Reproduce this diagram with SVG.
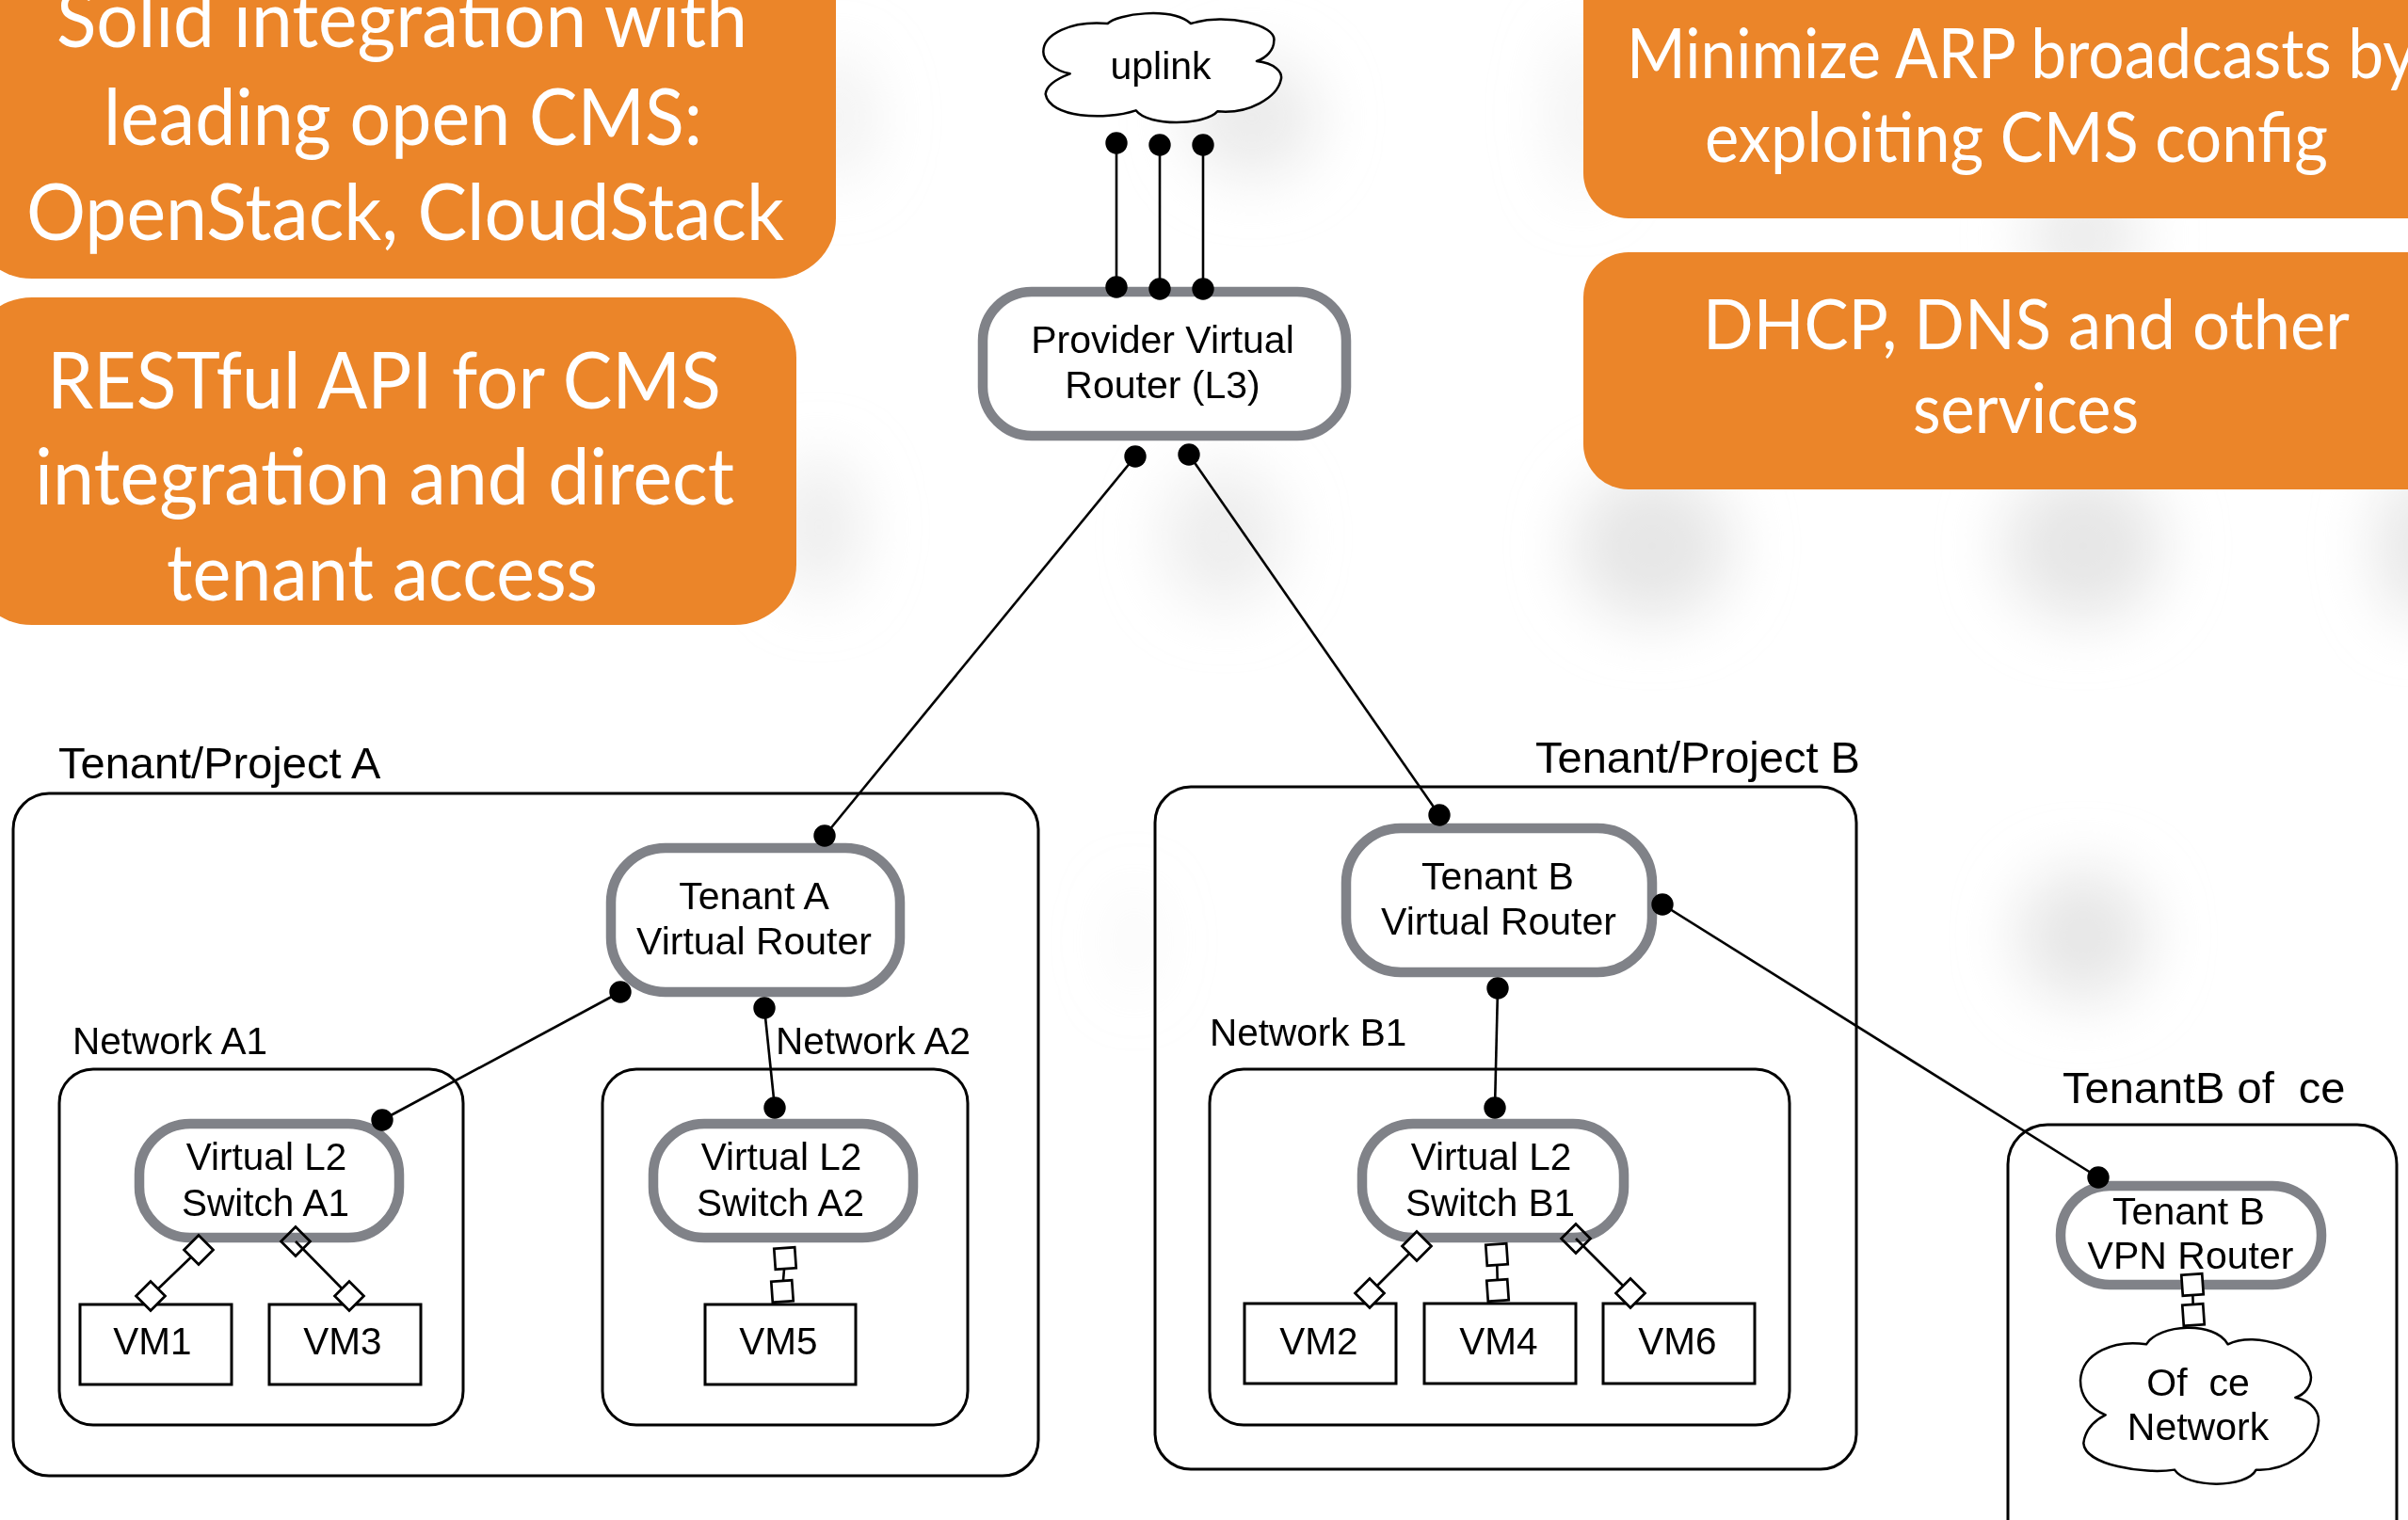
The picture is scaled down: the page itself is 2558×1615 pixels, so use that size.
<svg xmlns="http://www.w3.org/2000/svg" width="2558" height="1615" viewBox="0 0 2558 1615">
<style>
text{font-family:"Liberation Sans",Arial,sans-serif;fill:#000;white-space:pre}
.c{text-anchor:middle}
.f40{font-size:40.5px}.f41{font-size:41px}.f47{font-size:47px}
.o{fill:#eb8529}
.l{font-family:Lato,"Open Sans",sans-serif;fill:#fff}
.l84{font-size:84px}.l72{font-size:73px}
.router{fill:#fff;stroke:#808288;stroke-width:10.5}
.box{fill:none;stroke:#000;stroke-width:3}
.vm{fill:#fff;stroke:#000;stroke-width:3}
.cloud{fill:#fff;stroke:#000;stroke-width:7.5;stroke-linejoin:round}
.link{fill:none;stroke:#000;stroke-width:2.6}
.dd{marker-start:url(#dot);marker-end:url(#dot)}
.di{marker-start:url(#dia);marker-end:url(#dia)}
.dh{marker-start:url(#diah);marker-end:url(#dia)}
.sq{marker-start:url(#sq);marker-end:url(#sq)}
</style>
<defs>
<filter id="blur" x="-80%" y="-80%" width="260%" height="260%"><feGaussianBlur stdDeviation="32"/></filter>
<marker id="dot" markerUnits="userSpaceOnUse" markerWidth="26" markerHeight="26" refX="13" refY="13" overflow="visible"><circle cx="13" cy="13" r="11.7" fill="#000"/></marker>
<marker id="dia" markerUnits="userSpaceOnUse" markerWidth="40" markerHeight="40" refX="20" refY="20"><polygon points="20,4.5 35.5,20 20,35.5 4.5,20" fill="#fff" stroke="#000" stroke-width="2.7"/></marker>
<marker id="diah" markerUnits="userSpaceOnUse" markerWidth="40" markerHeight="40" refX="20" refY="20"><polygon points="20,4.5 35.5,20 20,35.5 4.5,20" fill="none" stroke="#000" stroke-width="2.7"/></marker>
<marker id="sq" markerUnits="userSpaceOnUse" markerWidth="32" markerHeight="32" refX="16" refY="16"><rect x="5" y="5" width="22" height="22" fill="#fff" stroke="#000" stroke-width="2.7" transform="rotate(-4 16 16)"/></marker>
</defs>
<rect width="2558" height="1615" fill="#fff"/>
<g id="shadows" filter="url(#blur)" fill="#e6e6e6">
<ellipse cx="890" cy="125" rx="40" ry="70" opacity=".5"/>
<ellipse cx="870" cy="560" rx="45" ry="75" opacity=".7"/>
<ellipse cx="1330" cy="125" rx="70" ry="65" opacity=".8"/>
<ellipse cx="1300" cy="570" rx="65" ry="75" opacity=".7"/>
<ellipse cx="1755" cy="580" rx="85" ry="80"/>
<ellipse cx="2213" cy="580" rx="85" ry="80"/>
<ellipse cx="2570" cy="580" rx="45" ry="80"/>
<ellipse cx="2213" cy="994" rx="70" ry="70"/>
<ellipse cx="2213" cy="250" rx="60" ry="60" opacity=".8"/>
<ellipse cx="1680" cy="120" rx="30" ry="90" opacity=".5"/>
<ellipse cx="1205" cy="1000" rx="20" ry="60" opacity=".3"/>
</g>
<g id="callout-cms">
<rect class="o" x="-32" y="-120" width="920" height="416" rx="66" ry="64"/>
<text class="l l84" x="60" y="50" textLength="734" lengthAdjust="spacingAndGlyphs">Solid integration with</text>
<text class="l l84" x="110" y="154" textLength="636" lengthAdjust="spacingAndGlyphs">leading open CMS:</text>
<text class="l l84" x="28" y="255" textLength="805" lengthAdjust="spacingAndGlyphs">OpenStack, CloudStack</text>
</g>
<g id="callout-rest">
<rect class="o" x="-32" y="316" width="878" height="348" rx="66" ry="64"/>
<text class="l l84" x="50" y="434" textLength="716" lengthAdjust="spacingAndGlyphs">RESTful API for CMS</text>
<text class="l l84" x="37" y="536" textLength="743" lengthAdjust="spacingAndGlyphs">integration and direct</text>
<text class="l l84" x="177" y="638" textLength="458" lengthAdjust="spacingAndGlyphs">tenant access</text>
</g>
<g id="callout-arp">
<rect class="o" x="1682" y="-100" width="976" height="332" rx="48" ry="48"/>
<text class="l l72" x="1728" y="83" textLength="838" lengthAdjust="spacingAndGlyphs">Minimize ARP broadcasts by</text>
<text class="l l72" x="1811" y="172" textLength="662" lengthAdjust="spacingAndGlyphs">exploiting CMS config</text>
</g>
<g id="callout-dhcp">
<rect class="o" x="1682" y="268" width="976" height="252" rx="48" ry="48"/>
<text class="l l72" x="1809" y="371" textLength="687" lengthAdjust="spacingAndGlyphs">DHCP, DNS and other</text>
<text class="l l72" x="2032" y="460" textLength="240" lengthAdjust="spacingAndGlyphs">services</text>
</g>
<g id="tenant-a">
<rect class="box" x="14" y="843" width="1089" height="725" rx="38"/>
<text class="f47" x="62" y="827">Tenant/Project A</text>
</g>
<g id="tenant-b">
<rect class="box" x="1227" y="836" width="745" height="725" rx="38"/>
<text class="f47" x="1631" y="821">Tenant/Project B</text>
</g>
<g id="tenant-b-office">
<rect class="box" x="2133" y="1195" width="413" height="500" rx="42"/>
<text class="f47" x="2191" y="1172">TenantB of  ce</text>
</g>
<g id="network-a1">
<rect class="box" x="63" y="1136" width="429" height="378" rx="36"/>
<text class="f40" x="77" y="1120">Network A1</text>
</g>
<g id="network-a2">
<rect class="box" x="640" y="1136" width="388" height="378" rx="36"/>
<text class="f40" x="824" y="1120">Network A2</text>
</g>
<g id="network-b1">
<rect class="box" x="1285" y="1136" width="616" height="378" rx="36"/>
<text class="f40" x="1285" y="1111">Network B1</text>
</g>
<g id="uplink">
<path class="cloud" transform="translate(1040 0) scale(.3333)" d="M290,235 C240,225 205,195 205,165 C205,110 290,65 410,75 C440,45 610,20 675,75 C790,40 950,80 940,130 C940,160 915,185 885,195 C940,200 970,230 962,255 C950,310 860,365 760,355 C720,400 540,405 500,352 C400,385 225,375 212,300 C215,270 250,250 290,235 Z"/>
<text class="c f41" x="1233" y="84">uplink</text>
</g>
<g id="provider-router">
<rect class="router" x="1044" y="310" width="386" height="153" rx="52"/>
<text class="c f41" x="1235" y="375">Provider Virtual</text>
<text class="c f41" x="1235" y="423">Router (L3)</text>
</g>
<g id="tenant-a-router">
<rect class="router" x="649" y="901" width="307" height="153" rx="58"/>
<text class="c f41" x="801" y="966">Tenant A</text>
<text class="c f41" x="801" y="1014">Virtual Router</text>
</g>
<g id="tenant-b-router">
<rect class="router" x="1430" y="880" width="325" height="153" rx="58"/>
<text class="c f41" x="1591" y="945">Tenant B</text>
<text class="c f41" x="1592" y="993">Virtual Router</text>
</g>
<g id="switch-a1">
<rect class="router" x="148" y="1194" width="276" height="121" rx="54"/>
<text class="c f40" x="283" y="1243">Virtual L2</text>
<text class="c f40" x="282" y="1292">Switch A1</text>
</g>
<g id="switch-a2">
<rect class="router" x="694" y="1194" width="276" height="121" rx="54"/>
<text class="c f40" x="830" y="1243">Virtual L2</text>
<text class="c f40" x="829" y="1292">Switch A2</text>
</g>
<g id="switch-b1">
<rect class="router" x="1447" y="1194" width="278" height="121" rx="54"/>
<text class="c f40" x="1584" y="1243">Virtual L2</text>
<text class="c f40" x="1583" y="1292">Switch B1</text>
</g>
<g id="vpn-router">
<rect class="router" x="2189" y="1260" width="277" height="105" rx="52"/>
<text class="c f41" x="2325" y="1301">Tenant B</text>
<text class="c f41" x="2327" y="1348">VPN Router</text>
</g>
<g id="office-network">
<path class="cloud" transform="translate(2120 1180) scale(.3333)" d="M350,970 C300,950 270,910 270,860 C275,770 380,730 480,745 C520,680 700,670 740,745 C830,700 1000,760 1005,850 C1005,880 985,905 955,915 C1010,925 1035,965 1028,1000 C1020,1090 920,1150 830,1145 C800,1205 610,1205 570,1145 C470,1160 285,1130 280,1060 C285,1020 310,990 350,970 Z"/>
<text class="c f41" x="2335" y="1483">Of  ce</text>
<text class="c f41" x="2335" y="1530">Network</text>
</g>
<g id="vm1"><rect class="vm" x="85" y="1386" width="161" height="85"/><text class="c f40" x="162" y="1439">VM1</text></g>
<g id="vm3"><rect class="vm" x="286" y="1386" width="161" height="85"/><text class="c f40" x="364" y="1439">VM3</text></g>
<g id="vm5"><rect class="vm" x="749" y="1386" width="160" height="85"/><text class="c f40" x="827" y="1439">VM5</text></g>
<g id="vm2"><rect class="vm" x="1322" y="1385" width="161" height="85"/><text class="c f40" x="1401" y="1439">VM2</text></g>
<g id="vm4"><rect class="vm" x="1513" y="1385" width="161" height="85"/><text class="c f40" x="1592" y="1439">VM4</text></g>
<g id="vm6"><rect class="vm" x="1703" y="1385" width="161" height="85"/><text class="c f40" x="1782" y="1439">VM6</text></g>
<g id="connectors">
<line class="link dd" x1="1186" y1="152" x2="1186" y2="305"/>
<line class="link dd" x1="1232" y1="154" x2="1232" y2="307"/>
<line class="link dd" x1="1278" y1="154" x2="1278" y2="307"/>
<line class="link dd" x1="1206" y1="485" x2="876" y2="888"/>
<line class="link dd" x1="1263" y1="483" x2="1529" y2="866"/>
<line class="link dd" x1="659" y1="1054" x2="406" y2="1190"/>
<line class="link dd" x1="812" y1="1071" x2="823" y2="1177"/>
<line class="link dd" x1="1591" y1="1050" x2="1588" y2="1177"/>
<line class="link dd" x1="1766" y1="961" x2="2229" y2="1251"/>
<line class="link di" x1="211" y1="1328" x2="160" y2="1377"/>
<line class="link dh" x1="314" y1="1319" x2="371" y2="1377"/>
<line class="link di" x1="1505" y1="1324" x2="1455" y2="1374"/>
<line class="link dh" x1="1674" y1="1316" x2="1732" y2="1374"/>
<line class="link sq" x1="834" y1="1337" x2="831" y2="1372"/>
<line class="link sq" x1="1590" y1="1333" x2="1591" y2="1371"/>
<line class="link sq" x1="2329" y1="1365" x2="2330" y2="1397"/>
</g>
</svg>
